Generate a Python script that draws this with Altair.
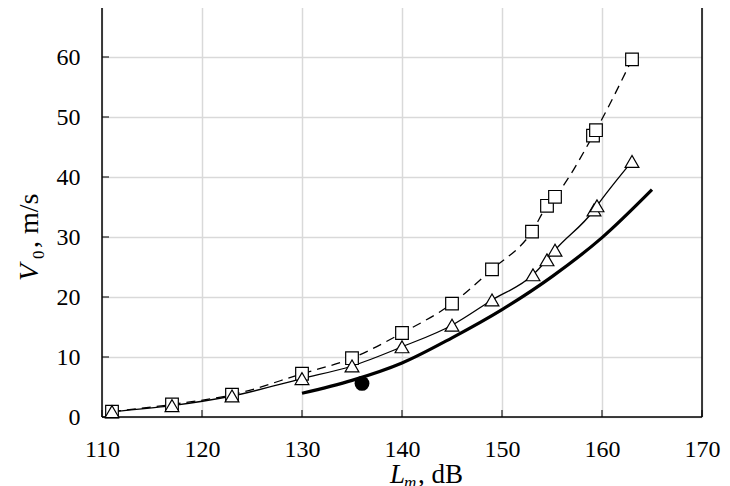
import altair as alt
import pandas as pd

# ---- data ----
sq_x = [111, 117, 123, 130, 135, 140, 145, 149, 153, 154.5, 155.3, 159.1, 159.4, 163]
sq_y = [0.9, 2.1, 3.7, 7.2, 9.8, 14.0, 18.9, 24.6, 30.9, 35.2, 36.7, 46.9, 47.8, 59.6]

tri_x = [111, 117, 123, 130, 135, 140, 145, 149, 153.1, 154.5, 155.3, 159.2, 159.5, 163]
tri_y = [0.9, 1.9, 3.5, 6.4, 8.5, 11.7, 15.3, 19.5, 23.7, 26.2, 27.8, 34.5, 35.2, 42.6]

thick_x = [130, 135, 140, 145, 150, 155, 160, 165]
thick_y = [3.95, 6.1, 9.0, 13.2, 17.9, 23.4, 29.9, 37.9]

dot_x = [136]
dot_y = [5.6]

x_ticks = [110, 120, 130, 140, 150, 160, 170]
y_ticks = [0, 10, 20, 30, 40, 50, 60, 70]

FONT = "Liberation Serif"
W, H = 600, 420

sq = pd.DataFrame({"x": sq_x, "y": sq_y})
tri = pd.DataFrame({"x": tri_x, "y": tri_y})
thick = pd.DataFrame({"x": thick_x, "y": thick_y})
dot = pd.DataFrame({"x": dot_x, "y": dot_y})
xt = pd.DataFrame({"x": x_ticks})
yt = pd.DataFrame({"y": y_ticks})
one = pd.DataFrame({"a": [0]})

xs = alt.Scale(domain=[110, 170], nice=False, zero=False)
ys = alt.Scale(domain=[0, 70], nice=False)

X = lambda: alt.X("x:Q", scale=xs, axis=alt.Axis(values=x_ticks, title=None))
Y = lambda: alt.Y("y:Q", scale=ys, axis=alt.Axis(values=y_ticks, title=None))

dash_line = alt.Chart(sq).mark_line(color="black", strokeWidth=1.3, strokeDash=[9, 6],
                                    interpolate="monotone").encode(x=X(), y=Y())
tri_line = alt.Chart(tri).mark_line(color="black", strokeWidth=1.3,
                                    interpolate="monotone").encode(x=X(), y=Y())
thick_line = alt.Chart(thick).mark_line(color="black", strokeWidth=3.2,
                                        interpolate="monotone").encode(x=X(), y=Y())

sq_pts = alt.Chart(sq).mark_point(shape="square", size=160, filled=True, fill="white",
                                  stroke="black", strokeWidth=1.2, opacity=1).encode(x=X(), y=Y())
tri_pts = alt.Chart(tri).mark_point(shape="triangle-up", size=190, filled=True, fill="white",
                                    stroke="black", strokeWidth=1.2, opacity=1).encode(x=X(), y=Y())
dot_pts = alt.Chart(dot).mark_point(shape="circle", size=220, filled=True, fill="black",
                                    opacity=1).encode(x=X(), y=Y())

# inward ticks
xtick = alt.Chart(xt).mark_rule(color="#303030", strokeWidth=1.3).encode(
    x=alt.X("x:Q", scale=xs), y=alt.value(H), y2=alt.value(H - 7))
ytick = alt.Chart(yt).mark_rule(color="#303030", strokeWidth=1.3).encode(
    y=alt.Y("y:Q", scale=ys), x=alt.value(0), x2=alt.value(7))

# frame
frame_l = alt.Chart(one).mark_rule(color="black", strokeWidth=1.5).encode(
    x=alt.value(0), y=alt.value(0), y2=alt.value(H))
frame_r = alt.Chart(one).mark_rule(color="black", strokeWidth=1.5).encode(
    x=alt.value(W), y=alt.value(0), y2=alt.value(H))
frame_b = alt.Chart(one).mark_rule(color="black", strokeWidth=1.5).encode(
    y=alt.value(H), x=alt.value(0), x2=alt.value(W))

# axis titles built from text pieces
def txt(t, x, y, size, italic=False, angle=0):
    kw = dict(font=FONT, fontSize=size, color="black", align="left", baseline="alphabetic")
    if italic:
        kw["fontStyle"] = "italic"
    if angle:
        kw["angle"] = angle
    return alt.Chart(one).mark_text(**kw).encode(x=alt.value(x), y=alt.value(y), text=alt.value(t))

yt1 = txt("V", -64, 284, 28, italic=True, angle=270)
yt2 = txt("0", -58, 262, 17, angle=270)
yt3 = txt(", m/s", -64, 251, 28, angle=270)

xt1 = txt("L", 288, 486, 27, italic=True)
xt2 = txt("m", 302, 491, 17, italic=True)
xt3 = txt(", dB", 316, 486, 27)

chart = alt.layer(
    dash_line, tri_line, thick_line, xtick, ytick, frame_l, frame_r, frame_b,
    sq_pts, tri_pts, dot_pts, yt1, yt2, yt3, xt1, xt2, xt3
).properties(
    width=W, height=H,
    autosize=alt.AutoSizeParams(type="none"),
    padding={"left": 94, "top": -11, "right": 20, "bottom": 69},
).configure_view(stroke=None).configure_axis(
    grid=True, gridColor="#d9d9d9", gridWidth=1.5, domain=False, ticks=False,
    labelFont=FONT, labelFontSize=24, labelColor="black", labelPadding=20,
    labelFlush=False,
).configure_axisY(labelPadding=22)

chart.save("out.html", embed_options={"renderer": "svg", "actions": False})
